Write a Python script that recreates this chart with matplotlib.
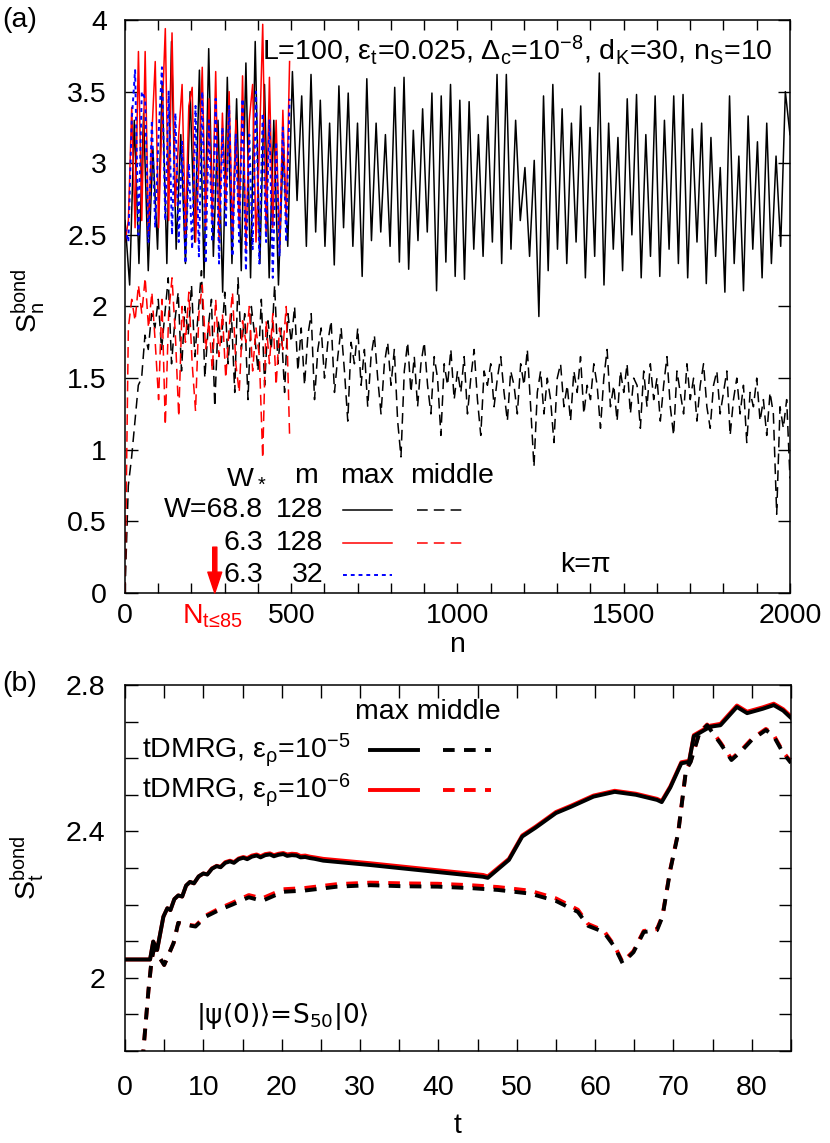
import numpy as np
import matplotlib
matplotlib.use('Agg')
import matplotlib.pyplot as plt
from matplotlib.ticker import MultipleLocator, FuncFormatter

plt.rcParams['font.family'] = ['Liberation Sans', 'DejaVu Sans']
plt.rcParams['mathtext.default'] = 'regular'
plt.rcParams['font.size'] = 20.5

# ---- panel (a): bond entropy vs n ----
# W=68.8, m=128, max (n = 0..2000)
S_max_W688 = [
    2.60, 2.15, 3.30, 2.30, 3.35, 2.25, 3.10, 2.40, 3.55, 2.30,
    3.85, 2.40, 3.20, 2.30, 3.50, 2.45, 3.65, 2.20, 3.80, 2.35,
    3.30, 2.10, 3.60, 2.30, 3.45, 2.25, 3.70, 2.20, 3.85, 2.30,
    3.55, 2.20, 3.30, 2.15, 3.10, 2.42, 3.64, 2.74, 3.47, 2.42,
    3.62, 2.52, 3.44, 2.42, 3.28, 2.29, 3.54, 2.55, 3.49, 2.42,
    3.28, 2.21, 3.59, 2.46, 3.28, 2.52, 3.20, 2.42, 3.53, 2.31,
    3.60, 2.26, 3.23, 2.46, 3.38, 2.52, 3.49, 2.11, 3.47, 2.31,
    3.55, 2.21, 3.44, 2.19, 3.43, 2.40, 3.20, 2.35, 3.33, 2.45,
    3.62, 2.30, 3.62, 2.40, 3.30, 2.60, 2.97, 2.35, 3.02, 1.93,
    3.47, 2.25, 3.55, 2.40, 3.38, 2.30, 3.28, 2.45, 3.40, 2.20,
    3.25, 2.35, 3.63, 2.15, 3.28, 2.40, 3.18, 2.25, 3.45, 2.50,
    3.48, 2.20, 3.20, 2.35, 3.47, 2.21, 3.30, 2.40, 3.47, 2.30,
    3.48, 2.20, 3.24, 2.45, 3.28, 2.16, 3.18, 2.35, 2.97, 2.10,
    3.47, 2.30, 3.05, 2.11, 3.33, 2.40, 3.15, 2.20, 3.28, 2.30,
    3.05, 2.42, 3.50, 3.20,
]
# W=68.8, m=128, middle (n = 0..2000)
S_mid_W688 = [
    0.00, 0.75, 0.95, 1.20, 1.45, 1.50, 1.80, 1.70, 1.95, 1.85,
    2.05, 1.70, 1.95, 2.20, 1.60, 1.90, 2.10, 1.55, 2.00, 1.80,
    2.15, 1.65, 1.95, 2.25, 1.50, 1.85, 2.05, 1.30, 1.90, 1.75,
    2.10, 1.60, 1.95, 1.40, 2.20, 1.70, 1.95, 1.35, 2.00, 1.80,
    1.55, 2.05, 1.45, 1.90, 1.70, 2.15, 1.60, 1.85, 1.40, 1.95,
    1.75, 2.00, 1.55, 1.85, 1.45, 1.80, 1.95, 1.35, 1.70, 1.85,
    1.50, 1.75, 1.90, 1.40, 1.65, 1.85, 1.55, 1.20, 1.75, 1.60,
    1.85, 1.45, 1.70, 1.30, 1.65, 1.80, 1.50, 1.25, 1.60, 1.75,
    1.45, 1.70, 1.20, 0.95, 1.55, 1.75, 1.40, 1.65, 1.30, 1.60,
    1.75, 1.45, 1.25, 1.65, 1.50, 1.10, 1.60, 1.45, 1.70, 1.35,
    1.55, 1.40, 1.65, 1.25, 1.50, 1.70, 1.35, 1.10, 1.55, 1.45,
    1.60, 1.30, 1.50, 1.65, 1.40, 1.20, 1.55, 1.45, 1.25, 1.60,
    1.45, 1.70, 1.30, 0.88, 1.40, 1.55, 1.25, 1.50, 1.35, 1.05,
    1.50, 1.60, 1.30, 1.45, 1.20, 1.55, 1.40, 1.65, 1.25, 1.45,
    1.35, 1.60, 1.45, 1.15, 1.50, 1.70, 1.30, 1.45, 1.20, 1.55,
    1.40, 1.60, 1.25, 1.50, 1.45, 1.15, 1.55, 1.30, 1.60, 1.35,
    1.50, 1.20, 1.45, 1.65, 1.30, 1.10, 1.55, 1.40, 1.25, 1.60,
    1.35, 1.50, 1.20, 1.45, 1.60, 1.30, 1.15, 1.45, 1.55, 1.25,
    1.40, 1.55, 1.10, 1.35, 1.50, 1.25, 1.45, 1.05, 1.40, 1.30,
    1.50, 1.20, 1.35, 1.10, 1.40, 1.25, 0.55, 1.30, 1.15, 1.35,
    0.80,
]
# W=6.3, m=128, max (n = 0..495)
S_max_W63_m128 = [
    2.45, 2.60, 3.39, 2.55, 3.78, 2.60, 3.78, 2.50, 3.20, 3.71,
    2.55, 3.30, 3.94, 2.60, 3.91, 2.70, 3.20, 3.55, 2.50, 3.40,
    3.53, 2.45, 3.00, 3.67, 2.55, 3.45, 2.60, 3.64, 2.45, 3.35,
    2.70, 3.50, 2.50, 3.30, 2.55, 3.61, 2.40, 3.30, 3.55, 2.45,
    3.10, 3.97, 2.50, 3.60, 2.55, 3.30, 2.40, 3.37, 2.60, 3.71,
]
# W=6.3, m=128, middle (n = 0..495)
S_mid_W63_m128 = [
    0.00, 1.85, 2.05, 1.90, 2.15, 1.95, 2.20, 1.85, 2.10, 1.75,
    1.35, 2.05, 1.17, 1.95, 2.20, 1.80, 1.23, 2.00, 1.75, 2.10,
    1.60, 1.27, 1.95, 2.15, 1.70, 1.90, 1.55, 2.05, 1.65, 1.95,
    1.50, 1.85, 2.10, 1.60, 1.40, 1.90, 1.75, 2.00, 1.55, 1.85,
    1.65, 0.94, 1.90, 1.60, 1.95, 1.45, 1.85, 1.70, 2.00, 1.10,
]
# W=6.3, m=32, max (n = 0..495)
S_max_W63_m32 = [
    2.55, 2.45, 3.30, 3.65, 2.50, 3.50, 3.45, 2.45, 3.30, 2.55,
    3.20, 3.67, 2.60, 3.50, 2.50, 3.35, 2.45, 3.15, 2.30, 3.00,
    2.40, 3.40, 2.35, 3.50, 2.30, 3.30, 2.45, 3.45, 2.30, 3.25,
    2.55, 3.40, 2.35, 3.20, 2.45, 3.45, 2.25, 3.20, 2.40, 3.50,
    2.30, 3.35, 2.45, 3.30, 2.20, 3.15, 2.35, 3.25, 2.45, 3.45,
]
n_W688 = np.linspace(0, 2000, len(S_max_W688))
n_W688_mid = np.linspace(0, 2000, len(S_mid_W688))
n_W63 = np.linspace(0, 495, len(S_max_W63_m128))
n_arrow = 270

# ---- panel (b): bond entropy vs t ----
t_max = [0, 3.2, 3.6, 4.1, 4.9, 5.4, 5.8, 6.3, 6.8, 7.3, 7.8, 8.3, 8.8, 9.4,
         10.0, 10.5, 11.1, 11.7, 12.2, 12.8, 13.4, 13.9, 14.5, 15.1, 15.6,
         16.2, 16.8, 17.3, 17.9, 18.5, 19.0, 19.6, 20.2, 20.7, 21.3, 21.9,
         22.4, 23.0, 23.6, 24.2, 25.3, 31.3, 37.6, 45.7, 46.3, 49, 50.7, 52.4,
         55, 56.9, 59.8, 62.5, 65.2, 67.9, 68.5, 69.6, 71, 72, 72.6, 74.7, 76,
         78.1, 79.4, 81.4, 82.8, 84, 85]
S_max_eps5 = [2.05, 2.05, 2.099, 2.076, 2.167, 2.19, 2.185, 2.215, 2.225,
              2.222, 2.252, 2.262, 2.258, 2.277, 2.285, 2.282, 2.298, 2.305,
              2.302, 2.314, 2.318, 2.314, 2.324, 2.328, 2.324, 2.331, 2.334,
              2.329, 2.335, 2.337, 2.332, 2.336, 2.338, 2.333, 2.335, 2.334,
              2.329, 2.330, 2.327, 2.325, 2.320, 2.308, 2.294, 2.276, 2.273,
              2.322, 2.386, 2.41, 2.45, 2.467, 2.495, 2.508, 2.50, 2.486, 2.48,
              2.52, 2.586, 2.59, 2.66, 2.686, 2.69, 2.74, 2.723, 2.735, 2.745,
              2.73, 2.71]
S_max_eps6 = [2.05, 2.05, 2.099, 2.076, 2.167, 2.19, 2.185, 2.215, 2.225,
              2.222, 2.252, 2.262, 2.258, 2.277, 2.285, 2.283, 2.299, 2.306,
              2.303, 2.316, 2.320, 2.316, 2.326, 2.330, 2.327, 2.334, 2.337,
              2.332, 2.338, 2.340, 2.335, 2.339, 2.341, 2.337, 2.339, 2.338,
              2.333, 2.334, 2.331, 2.329, 2.325, 2.313, 2.299, 2.281, 2.277,
              2.325, 2.389, 2.413, 2.453, 2.470, 2.498, 2.511, 2.503, 2.489,
              2.483, 2.523, 2.589, 2.593, 2.663, 2.689, 2.694, 2.744, 2.727,
              2.739, 2.749, 2.734, 2.714]
t_mid = [2.0, 2.34, 3.0, 3.4, 3.7, 5.0, 6.2, 6.8, 7.7, 9.0, 10.3, 12.0, 13.7,
         15.8, 17.5, 20.2, 22.8, 27.1, 31.3, 35.6, 39.9, 44.1, 47.6, 51.7, 55,
         57.8, 59.1, 61.1, 62.5, 63.5, 64.9, 66.2, 67.9, 68.6, 69.6, 70.6,
         71.6, 72.2, 73.3, 74.3, 76, 77.4, 78.7, 80, 81.8, 82.8, 84, 85]
S_mid_eps5 = [1.6, 1.80, 1.967, 2.05, 2.08, 2.035, 2.095, 2.15, 2.145, 2.14,
              2.167, 2.185, 2.20, 2.22, 2.21, 2.235, 2.238, 2.249, 2.253, 2.25,
              2.249, 2.245, 2.24, 2.23, 2.21, 2.18, 2.142, 2.125, 2.084, 2.04,
              2.07, 2.125, 2.13, 2.167, 2.295, 2.395, 2.567, 2.59, 2.668, 2.69,
              2.64, 2.595, 2.62, 2.65, 2.677, 2.66, 2.614, 2.587]
S_mid_eps6 = [1.6, 1.80, 1.967, 2.05, 2.08, 2.035, 2.095, 2.15, 2.146, 2.142,
              2.170, 2.189, 2.205, 2.226, 2.217, 2.242, 2.245, 2.256, 2.260,
              2.258, 2.257, 2.253, 2.248, 2.238, 2.217, 2.186, 2.147, 2.129,
              2.087, 2.043, 2.073, 2.128, 2.133, 2.170, 2.297, 2.397, 2.569,
              2.592, 2.670, 2.692, 2.643, 2.598, 2.623, 2.653, 2.680, 2.663,
              2.617, 2.590]

fmt = FuncFormatter(lambda v, p: f'{v:g}')

fig = plt.figure(figsize=(8.3, 11.43), dpi=100)
ax1 = fig.add_axes([0.1506, 0.4812, 0.8012, 0.5013])
ax2 = fig.add_axes([0.1506, 0.0805, 0.8024, 0.3202])

mid_dash = (0, (7, 4))
ax1.plot(n_W688, S_max_W688, color='black', lw=1.1)
ax1.plot(n_W688_mid, S_mid_W688, color='black', lw=1.1, ls=mid_dash)
ax1.plot(n_W63, S_max_W63_m128, color='red', lw=1.1)
ax1.plot(n_W63, S_mid_W63_m128, color='red', lw=1.1, ls=mid_dash)
ax1.plot(n_W63, S_max_W63_m32, color='blue', lw=1.4, ls=(0, (2, 2)))

ax1.set_xlim(0, 2000)
ax1.set_ylim(0, 4)
ax1.xaxis.set_major_locator(MultipleLocator(500))
ax1.xaxis.set_minor_locator(MultipleLocator(100))
ax1.yaxis.set_major_locator(MultipleLocator(0.5))
ax1.yaxis.set_major_formatter(fmt)
ax1.tick_params(which='both', direction='in', top=True, right=True, width=1)
ax1.tick_params(axis='x', which='both', length=7, pad=7)
ax1.tick_params(axis='y', which='major', length=9, pad=13)
ax1.set_xlabel('n')
ax1.xaxis.set_label_coords(0.5, -0.068)
ax1.set_ylabel('S$_n^{bond}$')
ax1.yaxis.set_label_coords(-0.118, 0.51)

ax1.text(0.974, 0.948, 'L=100, ε$_t$=0.025, Δ$_c$=10$^{-8}$, d$_K$=30, n$_S$=10',
         ha='right', va='center', transform=ax1.transAxes)
ax1.text(0.692, 0.049, 'k=π', ha='center', va='center', transform=ax1.transAxes)

# legend table of panel (a)
ax1.text(0.182, 0.205, 'W$_*$', ha='center', va='center', transform=ax1.transAxes)
ax1.text(0.272, 0.205, 'm', ha='center', va='center', transform=ax1.transAxes)
ax1.text(0.364, 0.205, 'max', ha='center', va='center', transform=ax1.transAxes)
ax1.text(0.492, 0.205, 'middle', ha='center', va='center', transform=ax1.transAxes)
rows = [('W=68.8', '128', 'black', True), ('6.3', '128', 'red', True), ('6.3', '32', 'blue', False)]
for (w, m, c, has_mid), y in zip(rows, [0.145, 0.087, 0.032]):
    ax1.text(0.208, y, w, ha='right', va='center', transform=ax1.transAxes)
    ax1.text(0.298, y, m, ha='right', va='center', transform=ax1.transAxes)
    if has_mid:
        ax1.plot([0.328, 0.401], [y, y], color=c, lw=1.1, transform=ax1.transAxes)
        ax1.plot([0.439, 0.511], [y, y], color=c, lw=1.1, ls=mid_dash, transform=ax1.transAxes)
    else:
        ax1.plot([0.328, 0.401], [y, y], color=c, lw=1.4, ls=(0, (2, 2)), transform=ax1.transAxes)

ax1.annotate('', xy=(n_arrow, 0), xytext=(n_arrow, 0.32),
             arrowprops=dict(facecolor='red', edgecolor='red', width=3, headwidth=10,
                             headlength=15, shrink=0))
ax1.text(262, -0.017, 'N$_{t≤85}$', color='red', ha='center', va='top',
         transform=ax1.get_xaxis_transform())

# panel (b)
thick_dash = (0, (3, 2.4))
ax2.plot(t_max, S_max_eps6, color='red', lw=2.8)
ax2.plot(t_mid, S_mid_eps6, color='red', lw=2.8, ls=thick_dash)
ax2.plot(t_max, S_max_eps5, color='black', lw=2.8)
ax2.plot(t_mid, S_mid_eps5, color='black', lw=2.8, ls=thick_dash)

ax2.set_xlim(0, 85)
ax2.set_ylim(1.8, 2.8)
ax2.xaxis.set_major_locator(MultipleLocator(10))
ax2.xaxis.set_minor_locator(MultipleLocator(5))
ax2.yaxis.set_major_locator(MultipleLocator(0.4))
ax2.yaxis.set_minor_locator(MultipleLocator(0.1))
ax2.yaxis.set_major_formatter(fmt)
ax2.tick_params(which='both', direction='in', top=True, right=True, width=1, length=9)
ax2.tick_params(axis='x', which='major', pad=17)
ax2.tick_params(axis='y', which='major', pad=14)
ax2.set_xlabel('t')
ax2.xaxis.set_label_coords(0.5, -0.17)
ax2.set_ylabel('S$_t^{bond}$')
ax2.yaxis.set_label_coords(-0.118, 0.50)

ax2.text(0.455, 0.926, 'max middle', ha='center', va='center', transform=ax2.transAxes)
for lab, c, y in [('tDMRG, ε$_ρ$=10$^{-5}$', 'black', 0.822), ('tDMRG, ε$_ρ$=10$^{-6}$', 'red', 0.713)]:
    ax2.text(0.338, y, lab, ha='right', va='center', transform=ax2.transAxes)
    ax2.plot([0.368, 0.44], [y, y], color=c, lw=2.8, transform=ax2.transAxes)
    ax2.plot([0.477, 0.55], [y, y], color=c, lw=2.8, ls=thick_dash, transform=ax2.transAxes)
ax2.text(0.236, 0.093, '|ψ(0)⟩=S$_{50}$|0⟩', ha='center', va='center',
         family='DejaVu Sans', fontsize=19, transform=ax2.transAxes)

for ax in (ax1, ax2):
    for s in ax.spines.values():
        s.set_linewidth(1.1)

fig.text(0.003, 0.9825, '(a)', ha='left', va='center')
fig.text(0.003, 0.4016, '(b)', ha='left', va='center')

fig.savefig('out.png', dpi=100)
